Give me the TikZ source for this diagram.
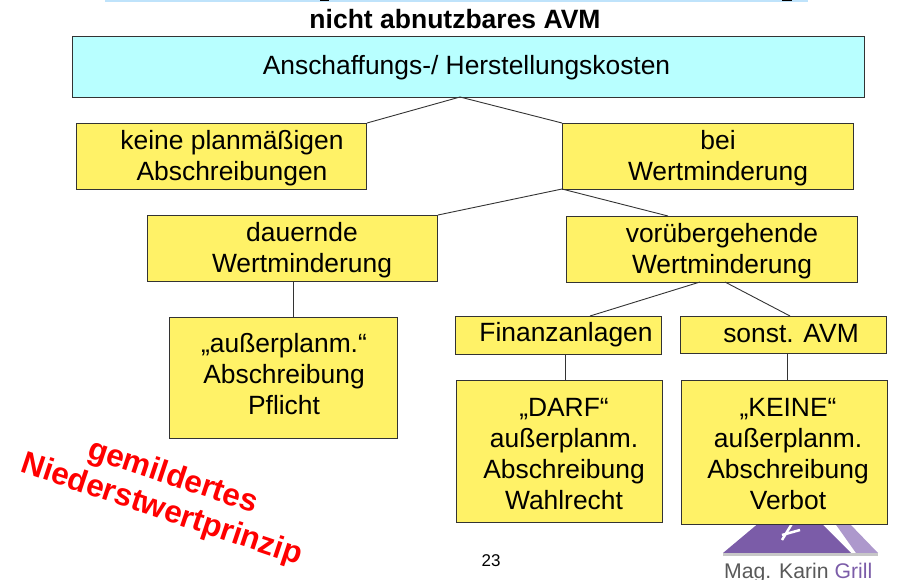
\documentclass[tikz,border=0pt]{standalone}
\usepackage{fontspec}
\setmainfont{Liberation Sans}
\definecolor{boxy}{HTML}{FFF267}
\definecolor{boxc}{HTML}{B8FFFF}
\definecolor{edge}{HTML}{333333}
\definecolor{strip}{HTML}{BFE3FB}
\definecolor{lila}{HTML}{7B5CA8}
\definecolor{lilal}{HTML}{AD98CC}
\tikzset{
  x=1pt,y=-1pt,
  box/.style={draw=edge,line width=1pt,fill=boxy,inner sep=0pt,anchor=north west},
  lbl/.style={inner sep=0pt,align=center,font=\fontsize{26.4}{31}\selectfont,text=black},
  conn/.style={draw=edge,line width=0.9pt},
  redtxt/.style={inner sep=0pt,align=center,font=\fontsize{31.5}{35}\bfseries\selectfont,text=red,rotate=-18.5},
}
\newcommand{\bx}[6][]{\node[box,#1,minimum width=#5pt-#3pt,minimum height=#6pt-#4pt] (#2) at (#3,#4) {};}
\begin{document}
\begin{tikzpicture}
\useasboundingbox (0,0) rectangle (901,579);
\fill[strip] (105,0) rectangle (808,1.5);
\fill[black] (320,0) rectangle (329,1);
\fill[black] (782,0) rectangle (792,1);
\node[inner sep=0pt,font=\fontsize{26.5}{30}\bfseries\selectfont] (title) at (455,19) {nicht abnutzbares AVM};
% logo
\begin{scope}
\clip (715,520) rectangle (901,579);
\fill[lila] (723,553) -- (760,522) -- (820,522) -- (851,553) -- cycle;
\fill[lilal] (834,522) -- (848,522) -- (878,553) -- (856,553) -- cycle;
\draw[white,line width=3pt] (762,520) arc (195:320:21);
\draw[white,line width=2.5pt] (782,540) -- (793,522);
\draw[white,line width=2.5pt] (782,535) -- (800,530);
\fill[black!22] (723,553) rectangle (878,556);
\node[inner sep=0pt,anchor=base west,font=\fontsize{21.2}{24}\selectfont,text=black!65] (logoa) at (724,578.5) {Mag. Karin \textcolor{lila}{Grill}};
\end{scope}
\bx[fill=boxc]{root}{72}{36}{864}{97}
\bx{keine}{76}{123}{366}{189}
\bx{bei}{562}{123}{853}{189}
\bx{dauer}{147}{215}{437}{281}
\bx{vor}{566}{216}{857}{282}
\bx{auss}{169}{317}{397}{438}
\bx{fin}{455}{316}{661}{354}
\bx{sonst}{680}{316}{886}{353}
\bx{darf}{456}{380}{662}{522}
\bx{kein}{681}{380}{887}{524}
\node[lbl] (troot) at (466.5,67.5) {Anschaffungs-/ Herstellungskosten};
\node[lbl] (tkeine) at (232,158) {keine planmäßigen\\Abschreibungen};
\node[lbl] (tbei) at (718,158) {bei\\Wertminderung};
\node[lbl] (tdauer) at (302,250) {dauernde\\Wertminderung};
\node[lbl] (tvor) at (722,251) {vorübergehende\\Wertminderung};
\node[lbl] (tauss) at (284,374) {„außerplanm.“\\Abschreibung\\Pflicht};
\node[lbl] (tfin) at (566,335) {Finanzanlagen};
\node[lbl] (tsonst) at (791,334) {sonst. AVM};
\node[lbl] (tdarf) at (564,454) {„DARF“\\außerplanm.\\Abschreibung\\Wahlrecht};
\node[lbl] (tkein) at (788,454) {„KEINE“\\außerplanm.\\Abschreibung\\Verbot};
\node[inner sep=0pt,font=\fontsize{17}{20}\selectfont] (page) at (491,561) {23};
\coordinate (j1) at (460,97);
\coordinate (j2) at (562,189);
\coordinate (j3a) at (700,282);
\coordinate (j3b) at (725,282);
\coordinate (k1) at (293,281);
\coordinate (k2) at (293,317);
\coordinate (k3) at (565,354);
\coordinate (k4) at (565,380);
\coordinate (k5) at (787,353);
\coordinate (k6) at (787,380);
\coordinate (s1) at (590,316);
\coordinate (s2) at (790,316);
\coordinate (s3) at (668,216);
\draw[conn] (j1) -- (keine.north east);
\draw[conn] (j1) -- (bei.north west);
\draw[conn] (j2) -- (dauer.north east);
\draw[conn] (j2) -- (s3);
\draw[conn] (j3a) -- (s1);
\draw[conn] (j3b) -- (s2);
\draw[conn] (k1) -- (k2);
\draw[conn] (k3) -- (k4);
\draw[conn] (k5) -- (k6);
\node[redtxt] (rote) at (167,494) {gemildertes\\Niederstwertprinzip};
\end{tikzpicture}
\end{document}
